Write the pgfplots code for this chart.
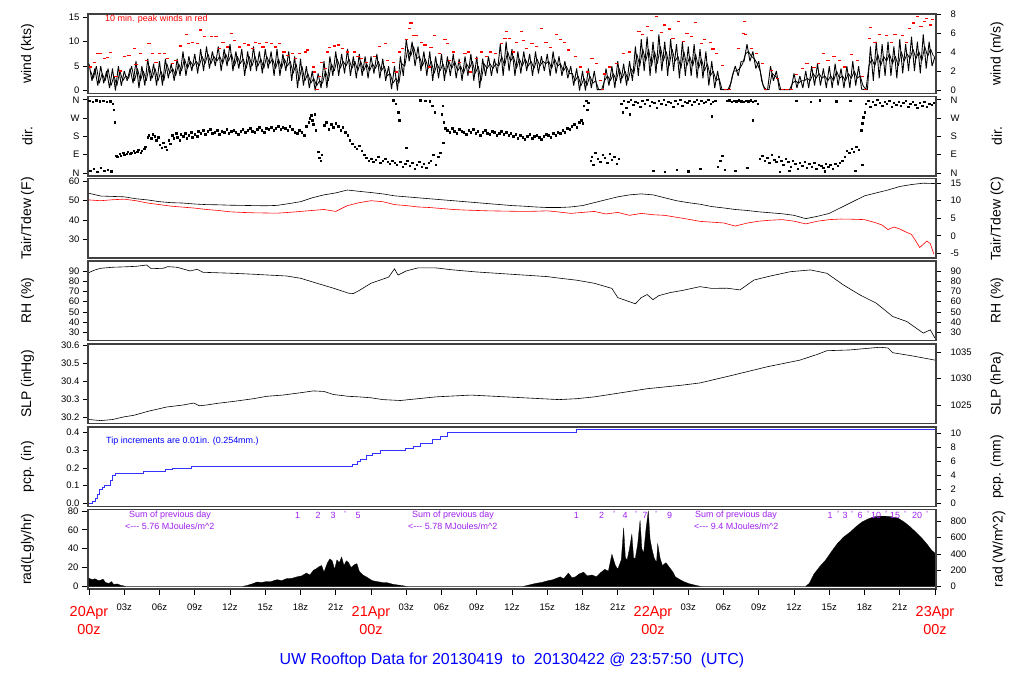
\documentclass[border=0pt]{standalone}
\usepackage{fontspec}
\setmainfont{Liberation Sans}
\usepackage{pgfplots}
\pgfplotsset{compat=1.18}
\definecolor{ppl}{HTML}{A020F0}
\newcommand\tk{\fontsize{9.5}{10}\selectfont}
\newcommand\lb{\fontsize{14}{16}\selectfont}
\newcommand\dayf{\fontsize{14.5}{18}\selectfont}
\newcommand\note{\fontsize{9}{10}\selectfont}

\pgfplotsset{
  panel/.style={scale only axis, width=848bp, height=79.5bp, anchor=north west,
    xmin=-0.085, xmax=72.085, xtick=\empty,
    axis line style={black!75, line width=1.2bp},
    tick align=outside, major tick length=5bp,
    every tick/.style={black, line width=0.6bp},
    yticklabel style={font=\tk}, ytick pos=left},
  rpanel/.style={panel, axis y line*=right, axis x line=none,
    ytick pos=right, yticklabel style={font=\tk, xshift=6bp}},
}

\begin{document}
\begin{tikzpicture}
\fill[white] (0,0) rectangle (1024bp,-700bp);
\path[use as bounding box] (0,0) rectangle (1024bp,-700bp);

% ---------------- wind
\begin{axis}[panel, at={(88bp,-14bp)}, ymin=-0.6, ymax=15.65,
  ytick={0,5,10,15}, yticklabels={0,5,10,15}]
\addplot[black, line width=0.9bp, line join=bevel] coordinates {
(0,5.5)(0.25,2)(0.5,4.5)(0.75,1) (1,5)(1.25,1.5)(1.5,4)(1.75,0.5)
(2,4.5)(2.25,0)(2.5,5)(2.75,1) (3,4)(3.25,2)(3.5,4.5)(3.75,1.5)
(4,6)(4.25,0.5)(4.5,5)(4.75,1) (5,6.5)(5.25,2)(5.5,5.5)(5.75,1)
(6,6)(6.25,1)(6.5,6.5)(6.75,2.5) (7,5.5)(7.25,2)(7.5,6.5)(7.75,3)
(8,8)(8.25,3)(8.5,7)(8.75,4) (9,7.5)(9.25,3.5)(9.5,8.5)(9.75,4)
(10,9)(10.25,4.5)(10.5,8)(10.75,5) (11,9)(11.25,4)(11.5,8.5)(11.75,5)
(12,9.5)(12.25,4)(12.5,8)(12.75,4.5) (13,8.5)(13.25,3)(13.5,8)(13.75,4)
(14,9)(14.25,4)(14.5,8)(14.75,3.5) (15,8.5)(15.25,4.5)(15.5,8)(15.75,3)
(16,8.5)(16.25,3)(16.5,7.5)(16.75,4) (17,8)(17.25,2)(17.5,7)(17.75,0.5)
(18,6.5)(18.25,1)(18.5,5)(18.75,0.5) (19,4)(19.25,0)(19.5,3.5)(19.75,0.5)
(20,6)(20.25,0.5)(20.5,7)(20.75,3) (21,8)(21.25,3)(21.5,7.5)(21.75,3.5)
(22,8.5)(22.25,3)(22.5,7)(22.75,2.5) (23,7.5)(23.25,3)(23.5,7)(23.75,2.5)
(24,7)(24.25,3.5)(24.5,7.5)(24.75,2.5) (25,6.5)(25.25,2)(25.5,5)(25.75,0.3)
(26,5)(26.25,0)(26.5,7)(26.75,3) (27,10.5)(27.25,6)(27.5,10)(27.75,5)
(28,9)(28.25,4)(28.5,8)(28.75,3) (29,8)(29.25,2)(29.5,7)(29.75,2.5)
(30,7.5)(30.25,2)(30.5,7)(30.75,3) (31,7.5)(31.25,2.5)(31.5,6.5)(31.75,2)
(32,7)(32.25,3)(32.5,7.5)(32.75,2) (33,7)(33.25,0.5)(33.5,6.5)(33.75,3)
(34,7)(34.25,3)(34.5,6.5)(34.75,3.5) (35,9.5)(35.25,3)(35.5,10)(35.75,4)
(36,8.5)(36.25,3)(36.5,8)(36.75,3.5) (37,8)(37.25,4)(37.5,7.5)(37.75,3)
(38,8)(38.25,3.5)(38.5,7)(38.75,4) (39,7.5)(39.25,3)(39.5,8)(39.75,3.5)
(40,7)(40.25,3)(40.5,6)(40.75,2.5) (41,5)(41.25,1)(41.5,4.5)(41.75,0)
(42,4)(42.25,0)(42.5,4.5)(42.75,0.5) (43,4)(43.25,0.2)(43.5,0.2)(43.75,0.2)
(44,4.5)(44.25,1)(44.5,5)(44.75,0.5) (45,6)(45.25,1.5)(45.5,5.5)(45.75,1)
(46,6)(46.25,2)(46.5,9)(46.75,3) (47,10.5)(47.25,4)(47.5,11)(47.75,3)
(48,10)(48.25,3.5)(48.5,11.5)(48.75,4) (49,10)(49.25,3)(49.5,10.5)(49.75,4)
(50,9.5)(50.25,2.5)(50.5,10)(50.75,3) (51,9)(51.25,3)(51.5,9.5)(51.75,2.5)
(52,8.5)(52.25,2.5)(52.5,8)(52.75,1) (53,6)(53.25,0.5)(53.5,4)(53.75,0.2)
(54,0.2)(54.25,0.2)(54.5,0.2)(54.75,3) (55,5)(55.25,3)(55.5,6)(55.75,6)
(56,9.5)(56.25,6)(56.5,8)(56.75,4.5) (57,6)(57.25,2)(57.5,0.2)(57.75,0.2)
(58,5)(58.25,2)(58.5,4)(58.75,0.2) (59,0.2)(59.25,0.2)(59.5,0.2)(59.75,0.2)
(60,3.5)(60.25,0.5)(60.5,3)(60.75,0.5) (61,4)(61.25,0.5)(61.5,5)(61.75,1)
(62,5.5)(62.25,1)(62.5,4.5)(62.75,0.5) (63,5)(63.25,0.5)(63.5,5.5)(63.75,1)
(64,4.5)(64.25,0.5)(64.5,5)(64.75,0.5) (65,6)(65.25,1)(65.5,5)(65.75,0.3)
(66,0.2)(66.25,0.2)(66.5,9)(66.75,2) (67,10)(67.25,2.5)(67.5,9.5)(67.75,3)
(68,10)(68.25,3)(68.5,9)(68.75,2.5) (69,10.5)(69.25,3.5)(69.5,9.5)(69.75,4)
(70,11)(70.25,4)(70.5,10)(70.75,3.5) (71,11.5)(71.25,4.5)(71.5,10)(71.75,5)
(72,7)};
\addplot[black, line width=0.8bp, line join=bevel] coordinates {
(0.125,4)(0.375,2.5)(0.625,5)(0.875,1.5) (1.125,3.5)(1.375,2)(1.625,4.5)(1.875,1)
(2.125,3)(2.375,1)(2.625,4)(2.875,2) (3.125,3)(3.375,2.5)(3.625,5)(3.875,2)
(4.125,4.5)(4.375,2)(4.625,4)(4.875,2) (5.125,5)(5.375,2.5)(5.625,4.5)(5.875,2)
(6.125,4)(6.375,2)(6.625,5.5)(6.875,3.5) (7.125,4.5)(7.375,3)(7.625,5.5)(7.875,4)
(8.125,6.5)(8.375,4.5)(8.625,6)(8.875,5) (9.125,6)(9.375,5)(9.625,7)(9.875,5.5)
(10.125,7.5)(10.375,5.5)(10.625,7)(10.875,6) (11.125,7)(11.375,5.5)(11.625,7.5)(11.875,6)
(12.125,7.5)(12.375,5)(12.625,7)(12.875,5.5) (13.125,6.5)(13.375,4.5)(13.625,7)(13.875,5)
(14.125,7)(14.375,5)(14.625,6.5)(14.875,4.5) (15.125,7)(15.375,5.5)(15.625,6.5)(15.875,4.5)
(16.125,6.5)(16.375,4.5)(16.625,6.5)(16.875,5) (17.125,6)(17.375,3.5)(17.625,5.5)(17.875,2)
(18.125,5)(18.375,2)(18.625,3.5)(18.875,1.5) (19.125,2.5)(19.375,1)(19.625,2)(19.875,1.5)
(20.125,4)(20.375,2)(20.625,5.5)(20.875,4) (21.125,6.5)(21.375,4.5)(21.625,6)(21.875,5)
(22.125,6.5)(22.375,4.5)(22.625,6)(22.875,4) (23.125,6)(23.375,4)(23.625,5.5)(23.875,4)
(24.125,5.5)(24.375,4.5)(24.625,6)(24.875,4) (25.125,5)(25.375,3)(25.625,3.5)(25.875,1.5)
(26.125,2.5)(26.375,1.5)(26.625,5.5)(26.875,5) (27.125,8.5)(27.375,7)(27.625,9)(27.875,6.5)
(28.125,7)(28.375,5)(28.625,6.5)(28.875,4.5) (29.125,6)(29.375,3.5)(29.625,5.5)(29.875,4)
(30.125,5.5)(30.375,3.5)(30.625,6)(30.875,4.5) (31.125,6)(31.375,4)(31.625,5)(31.875,3.5)
(32.125,5.5)(32.375,4.5)(32.625,6)(32.875,3.5) (33.125,5)(33.375,2)(33.625,5.5)(33.875,4.5)
(34.125,5.5)(34.375,4.5)(34.625,5.5)(34.875,5) (35.125,7)(35.375,5)(35.625,8)(35.875,6)
(36.125,7)(36.375,4.5)(36.625,6.5)(36.875,5) (37.125,6.5)(37.375,5)(37.625,6)(37.875,4.5)
(38.125,6.5)(38.375,5)(38.625,6)(38.875,5.5) (39.125,6)(39.375,4.5)(39.625,6.5)(39.875,5)
(40.125,5.5)(40.375,4)(40.625,5)(40.875,3.5) (41.125,3.5)(41.375,2)(41.625,3)(41.875,1)
(42.125,2.5)(42.375,1)(42.625,3)(42.875,1.5) (43.125,2)(43.375,0.2)(43.625,0.2)(43.875,2)
(44.125,3)(44.375,2)(44.625,3.5)(44.875,2) (45.125,4.5)(45.375,2.5)(45.625,4)(45.875,2)
(46.125,4.5)(46.375,3.5)(46.625,7.5)(46.875,5) (47.125,8.5)(47.375,6)(47.625,8.5)(47.875,5)
(48.125,8)(48.375,5.5)(48.625,9)(48.875,6) (49.125,8)(49.375,5)(49.625,8.5)(49.875,6)
(50.125,7)(50.375,4.5)(50.625,8)(50.875,5) (51.125,7)(51.375,5)(51.625,7.5)(51.875,4.5)
(52.125,6.5)(52.375,4)(52.625,5.5)(52.875,3) (53.125,4)(53.375,2)(53.625,2.5)(53.875,0.2)
(54.125,0.2)(54.375,0.2)(54.625,1.5)(54.875,4) (55.125,4)(55.375,4.5)(55.625,5.5)(55.875,7.5)
(56.125,8)(56.375,7)(56.625,6.5)(56.875,5.5) (57.125,4)(57.375,1)(57.625,0.2)(57.875,0.2)
(58.125,3.5)(58.375,3)(58.625,2.5)(58.875,0.2) (59.125,0.2)(59.375,0.2)(59.625,0.2)(59.875,1.5)
(60.125,2)(60.375,1.5)(60.625,2)(60.875,2) (61.125,2.5)(61.375,2)(61.625,3.5)(61.875,2.5)
(62.125,3.5)(62.375,2.5)(62.625,3)(62.875,2) (63.125,3)(63.375,2)(63.625,4)(63.875,2.5)
(64.125,3)(64.375,2)(64.625,3.5)(64.875,2.5) (65.125,4)(65.375,2.5)(65.625,3)(65.875,1)
(66.125,0.2)(66.375,5)(66.625,6.5)(66.875,5) (67.125,7.5)(67.375,5)(67.625,7)(67.875,6)
(68.125,7.5)(68.375,5.5)(68.625,7)(68.875,5) (69.125,8)(69.375,6)(69.625,7.5)(69.875,6.5)
(70.125,8.5)(70.375,6.5)(70.625,8)(70.875,6) (71.125,9)(71.375,7)(71.625,8.5)(71.875,7)};
\addplot[only marks, red, mark=-, mark size=1.6bp, mark options={line width=1.2bp}] coordinates {
(0.1,4.8)(0.5,5.8)(0.7,7.6)(1.0,7.6)(1.3,6.5)(1.6,6.7)(1.8,7.7)(2.3,2.8)(2.7,4.0)(3.0,6.9)
(3.4,7.1)(3.9,8.6)(4.0,5.4)(4.4,7.6)(4.9,6.2)(5.1,9.6)(5.4,7.6)(5.7,5.8)(6.0,7.6)(6.4,7.6)
(6.7,6.5)(7.1,5.5)(7.4,6.2)(7.8,9.1)(8.3,11.4)(8.5,9.6)(8.8,9.8)(9.2,9.6)(9.5,12.4)(9.8,11.0)
(10.4,11.0)(10.8,11.0)(11.1,8.6)(11.4,9.8)(11.8,8.9)(12.1,11.7)(12.4,10.2)(12.8,8.9)(13.2,9.6)
(13.6,9.3)(13.9,8.6)(14.2,9.9)(14.5,9.6)(14.8,8.9)(15.1,9.8)(15.5,9.6)(15.9,8.9)(16.2,9.6)
(16.6,7.9)(16.9,7.2)(17.3,7.6)(17.6,6.5)
(17.9,7.6)(18.4,7.9)(18.6,8.3)(19.1,4.8)(19.2,3.8)(19.4,0.2)(19.6,2.8)(19.8,5.8)(20.1,4.5)
(20.3,7.9)(20.5,8.8)(20.9,9.1)(21.2,9.3)(21.6,8.6)(22.0,7.9)(22.6,7.9)(22.9,6.9)(23.2,6.5)
(23.6,5.8)(24.3,6.9)(24.7,9.0)(25.2,9.6)(25.4,6.2)(25.9,5.8)(26.2,3.8)(26.4,7.9)(26.7,8.6)
(27.0,10.5)(27.3,12.7)(27.4,13.8)(27.6,11.2)(27.9,11.2)(28.3,9.9)(28.6,9.3)(29.0,4.8)(29.1,8.8)
(29.4,11.2)(29.8,7.6)(30.3,10.5)(30.5,9.6)(30.7,6.2)(31.0,7.9)(31.5,5.8)(32.0,7.6)(32.3,7.9)
(32.5,3.8)(33.0,6.5)(33.4,7.9)(33.8,6.9)(34.2,7.9)(34.6,7.6)(35.1,9.6)(35.4,10.7)(35.5,12.0)
(35.8,10.7)(36.1,7.9)(36.4,9.9)(36.8,12.0)(37.0,10.2)(37.2,8.6)(37.7,9.6)(38.1,9.0)(38.5,12.7)
(38.9,9.9)(39.3,8.8)(39.8,11.5)(40.1,10.5)(40.5,9.9)(40.8,8.3)(41.4,6.9)(41.8,4.8)(42.4,3.8)
(42.8,6.5)(43.2,5.5)(43.5,2.1)(43.7,0.2)(43.9,3.4)(44.3,4.8)(44.9,5.5)(45.5,7.6)(46.0,7.9)
(46.8,12.0)(47.1,11.5)(47.5,13.1)(47.9,12.2)(48.3,15.2)(48.7,11.8)(49.0,13.4)(49.4,12.6)
(49.7,10.7)(50.2,14.1)(50.6,10.0)(50.9,11.7)(51.3,11.0)(51.6,13.9)(52.1,9.6)(52.4,10.4)
(52.9,9.9)(53.1,8.5)(53.4,7.6)(53.9,5.2)(54.2,0.2)(54.5,0.2)
(55.3,8.6)(55.7,11.7)(55.8,14.1)(55.9,11.4)(56.4,8.6)(56.8,7.6)(57.3,5.5)(57.6,0.2)(58.1,4.1)
(58.6,2.4)(59.0,0.2)(59.4,0.2)(59.8,0.2)(60.2,3.3)(60.7,4.5)(61.1,5.5)(61.7,4.7)(62.1,5.5)
(62.5,7.6)(62.9,6.2)(63.4,6.9)(63.9,6.2)(64.3,4.8)(64.9,7.4)(65.4,6.2)(65.8,2.9)(66.1,0.2)
(66.4,10.7)(66.5,12.9)(66.9,9.9)(67.3,11.5)(67.9,11.2)(68.3,9.9)(68.6,11.4)(69.2,11.2)
(69.6,9.9)(69.8,12.7)(70.2,13.8)(70.5,15.2)(70.8,13.1)(71.1,14.1)(71.3,14.8)(71.6,13.4)(71.8,14.6)};
\end{axis}
\begin{axis}[rpanel, at={(88bp,-14bp)}, ymin=-0.309, ymax=8.05,
  ytick={0,2,4,6,8}, yticklabels={0,2,4,6,8}]
\end{axis}

% ---------------- direction
\begin{axis}[panel, at={(88bp,-96.5bp)}, ymin=-15, ymax=376,
  ytick={0,90,180,270,360}, yticklabels={N,E,S,W,N}]
\addplot[only marks, black, mark=square*, mark size=0.75bp] coordinates {
(0,355)(0.1,10)(0.3,350)(0.4,20)(0.6,358)(0.7,5)(0.9,352)(1.0,25)(1.2,356)(1.3,10)(1.5,350)
(1.6,15)(1.8,354)(1.9,8)(2.0,340)(2.1,310)(2.2,250)(2.3,85)
(2.4,80)(2.6,95)(2.7,85)(2.9,100)(3.0,90)(3.2,95)(3.3,105)(3.5,95)(3.6,100)(3.8,110)(3.9,100)
(4.1,105)(4.2,115)(4.4,100)(4.5,110)(4.7,120)(4.8,130)
(5.0,175)(5.1,185)(5.3,170)(5.4,190)(5.6,180)(5.7,160)(5.9,175)
(6.0,140)(6.2,125)(6.3,150)(6.5,130)(6.6,115)(6.8,160)(6.9,145)
(7.1,185)(7.2,170)(7.4,195)(7.5,175)(7.7,160)(7.8,190)(8.0,180)(8.2,195)(8.3,170)(8.5,185)
(8.7,200)(8.8,175)(9.0,190)(9.2,180)(9.3,205)
(9.5,195)(9.7,210)(9.9,190)(10.1,205)(10.3,215)(10.5,195)(10.7,200)(10.9,210)(11.1,190)
(11.3,205)(11.5,200)(11.7,215)(11.9,195)(12.1,205)(12.3,210)(12.5,200)(12.7,190)(12.9,205)
(13.1,215)(13.3,200)(13.5,210)(13.7,220)(13.9,205)(14.1,200)(14.3,215)(14.5,225)(14.7,210)
(14.9,200)(15.1,220)(15.3,215)(15.5,225)(15.7,210)(15.9,220)(16.1,230)(16.3,215)(16.5,225)
(16.7,220)(16.9,210)(17.1,230)(17.3,215)(17.5,200)(17.7,195)(17.9,210)
(18.1,200)(18.3,185)(18.5,230)(18.7,250)(18.8,270)(18.9,285)(19.0,260)(19.1,240)(19.2,290)(19.3,210)
(19.5,105)(19.6,75)(19.7,60)(19.8,90)
(20.0,235)(20.2,250)(20.4,215)(20.6,240)(20.8,225)(21.0,245)(21.2,230)(21.4,210)(21.6,225)(21.8,200)
(22.0,185)(22.2,160)(22.4,145)(22.6,130)(22.8,120)(23.0,135)(23.2,110)(23.4,90)
(23.6,75)(23.8,60)(24.0,70)(24.2,55)(24.4,65)(24.6,80)(24.8,50)(25.0,60)(25.2,70)(25.4,55)
(25.6,45)(25.8,60)(26.0,50)(26.2,40)
(25.9,358)(26.1,340)(26.3,300)(26.4,260)
(26.5,55)(26.7,30)(26.9,45)(27.0,125)(27.1,60)(27.3,35)(27.5,50)(27.7,20)(27.9,40)(28.1,55)
(28.3,30)(28.5,45)(28.7,25)(28.9,50)
(28.2,358)(28.6,355)(29.0,352)(29.2,330)(29.4,300)
(29.1,60)(29.3,90)(29.5,40)(29.7,80)(29.9,100)
(30.0,290)(30.1,330)(30.15,150)(30.2,250)(30.3,220)
(30.5,210)(30.7,200)(30.9,220)(31.1,205)(31.3,195)(31.5,215)(31.7,205)(31.9,200)(32.1,190)
(32.3,210)(32.5,200)(32.7,215)(32.9,195)(33.1,205)(33.3,185)(33.5,200)(33.7,210)(33.9,195)
(34.1,190)(34.3,205)(34.5,200)(34.7,185)(34.9,195)(35.1,205)(35.3,190)(35.5,200)(35.7,185)(35.9,195)
(36.1,180)(36.3,190)(36.5,170)(36.7,185)(36.9,175)(37.1,165)(37.3,180)(37.5,190)(37.7,170)
(37.9,180)(38.1,185)(38.3,175)(38.5,165)(38.7,180)(38.9,190)(39.1,185)(39.3,175)(39.5,195)
(39.7,185)(39.9,200)
(40.1,195)(40.3,210)(40.5,200)(40.7,220)(40.9,215)(41.1,230)(41.3,240)(41.5,225)(41.7,250)
(41.9,260)(42.0,245)(42.1,330)(42.3,355)(42.4,310)(42.5,345)
(42.7,60)(42.8,80)(42.9,40)(43.1,100)(43.3,70)(43.5,55)(43.7,90)(43.9,75)(44.1,50)(44.3,95)
(44.5,65)(44.7,80)(44.9,45)(45.1,70)
(45.3,340)(45.4,300)(45.5,355)(45.7,320)(45.9,350)(46.1,360)(46.3,335)(46.5,350)(46.7,345)
(46.9,325)(47.1,355)(47.3,340)(47.5,360)(47.7,330)(47.9,350)(48.1,345)(48.3,320)(48.5,355)
(48.7,340)(48.9,360)(49.1,335)(49.3,350)(49.5,345)(49.7,325)(49.9,355)(50.1,340)(50.3,360)
(50.5,330)(50.7,350)(50.9,345)(51.1,355)(51.3,335)(51.5,350)(51.7,360)(51.9,340)(52.1,355)
(52.3,345)(52.5,350)(52.7,360)(52.9,340)(53.1,350)(53.3,355)
(46.0,290)(48.0,10)(49.0,5)(50.0,15)(51.0,8)(52.0,20)(53.0,280)
(53.5,30)(53.7,60)(53.9,85)(54.1,15)
(54.3,355)(54.5,358)(54.7,350)(54.9,356)(55.1,352)(55.3,358)(55.5,354)(55.7,350)(55.9,356)
(56.1,352)(56.3,358)(56.5,350)(56.7,355)(56.9,340)(55.0,10)(56.0,25)(56.5,260)
(57.1,70)(57.3,85)(57.5,60)(57.7,75)(57.9,50)(58.1,90)(58.3,65)(58.5,55)(58.7,80)(58.9,60)
(59.1,40)(59.3,70)(59.5,55)(59.7,30)(59.9,60)(60.1,45)(60.3,20)(60.5,50)(60.7,35)(60.9,55)
(61.1,25)(61.3,45)(61.5,30)(61.7,50)(61.9,20)(62.1,40)(62.3,35)(62.5,25)(62.7,45)(62.9,30)
(63.1,40)(63.3,20)(63.5,45)(63.7,35)(63.9,50)(64.1,60)(64.3,80)(64.5,110)(64.7,100)(64.9,120)
(65.1,105)(65.3,130)(65.5,115)
(60.2,355)(61.4,350)(62.2,358)(63.6,352)(64.8,356)(58.8,5)(59.6,10)(62.6,8)(65.2,12)(65.8,40)
(65.7,210)(65.8,245)(65.9,275)(66.0,300)
(66.1,340)(66.3,355)(66.5,325)(66.7,350)(66.9,335)(67.1,360)(67.3,345)(67.5,330)(67.7,350)
(67.9,340)(68.1,355)(68.3,325)(68.5,345)(68.7,335)(68.9,350)(69.1,330)(69.3,345)(69.5,355)
(69.7,325)(69.9,340)(70.1,350)(70.3,335)(70.5,320)(70.7,345)(70.9,330)(71.1,350)(71.3,325)
(71.5,340)(71.7,335)(71.9,345)};
\end{axis}
\begin{axis}[rpanel, at={(88bp,-96.5bp)}, ymin=-15, ymax=376,
  ytick={0,90,180,270,360}, yticklabels={N,E,S,W,N}]
\end{axis}

% ---------------- temperature
\begin{axis}[panel, at={(88bp,-178.5bp)}, ymin=20.6, ymax=61.4,
  ytick={30,40,50,60}, yticklabels={30,40,50,60}]
\addplot[black, line width=0.6bp] coordinates {
(0,53.8)(1,52.4)(2,52.2)(3,52)(4,51)(5,50.4)(6,49.5)(7,49)(8,48.8)(9,48.3)(10,48)(11,47.9)
(12,47.7)(13,47.6)(14,47.5)(15,47.4)(16,47.6)(17,48.5)(18,49.5)(19,51.5)(20,53)(21,54)(22,55.5)
(23,54.8)(24,54.2)(25,53.5)(26,52.5)(27,52)(28,51.5)(29,51)(30,50.5)(31,50)(32,49.5)(33,49)
(34,48.5)(35,48)(36,47.5)(37,47.2)(38,46.8)(39,46.5)(40,46.5)(41,46.8)(42,47.5)(43,49)(44,50.5)
(45,52)(46,53)(47,53.5)(48,53)(49,51.5)(50,50)(51,49)(52,48.2)(53,47)(54,46.3)(55,45.5)(56,45)
(57,44.3)(58,43.8)(59,43.3)(60,42.5)(61,40.8)(62,42)(63,43.5)(64,46.5)(65,49.5)(66,52.5)(67,54)
(68,55.5)(69,57.3)(70,58.3)(71,59)(72,58.8)};
\addplot[red, line width=0.6bp] coordinates {
(0,50.4)(1,50)(2,50.5)(3,50.8)(4,50)(5,48.8)(6,48)(7,47.2)(8,46.7)(9,46.2)(10,45.5)(11,45)
(12,44.3)(13,44)(14,43.8)(15,43.7)(16,43.6)(17,44)(18,44.5)(19,45)(20,45.5)(21,44.5)(22,47.5)
(23,49)(24,50)(25,49.5)(26,48)(27,47.5)(28,46.8)(29,46.5)(30,46)(31,45.5)(32,45.2)(33,45)
(34,44.8)(35,44.7)(36,44.6)(37,44.5)(38,44.6)(39,44.8)(40,44.2)(41,43.5)(42,44)(43,44.5)
(44,43.2)(45,44)(46,42.5)(47,43.5)(48,42.8)(49,42.5)(50,41.5)(51,40.5)(52,39.4)(53,39)(54,38.6)
(55,37)(56,38.5)(57,39.5)(58,40)(59,40.3)(60,39.5)(61,38.1)(62,39.5)(63,40.3)(64,40.6)(65,40.5)
(66,40.3)(67,38.6)(67.5,37.5)(68,35.2)(68.5,36.5)(69,35.5)(69.5,34)(70,32.7)(70.4,29)
(70.7,26)(71.3,29.3)(71.6,28)(71.9,22.6)};
\end{axis}
\begin{axis}[rpanel, at={(88bp,-178.5bp)}, ymin=-6.333, ymax=16.333,
  ytick={-5,0,5,10,15}, yticklabels={-5,0,5,10,15}]
\end{axis}

% ---------------- RH
\begin{axis}[panel, at={(88bp,-261bp)}, ymin=22.2, ymax=99.7,
  ytick={30,40,50,60,70,80,90}, yticklabels={30,40,50,60,70,80,90}]
\addplot[black, line width=0.6bp] coordinates {
(0,88.4)(0.5,91)(1,92.6)(2,93.6)(3,94)(4,94.5)(4.9,95.8)(5.3,92.2)(6.3,92.6)(6.7,94.2)
(7.5,93.6)(8.6,90)(9.2,91.6)(9.7,88.7)(11,88.2)(12.3,87.7)(14,86.8)(15.1,86.1)(16.8,85.1)
(18,82.9)(19.4,78)(20.8,73.2)(22.1,68.3)(22.5,68)(23,71)(24,78)(25,82)(25.5,84)(26,92)
(26.3,86)(27,90)(28,93)(29.5,93)(31,91)(33,89)(35,87.5)(37,86)(39,84.5)(40,83)(41.5,81)
(43,78)(44.5,73)(45,64)(45.5,62)(46.5,58)(47,64)(47.5,67)(48,62)(48.5,66)(49.5,69)(50.5,71)
(52,74.7)(53,73)(54.3,73.2)(55.4,71.5)(56.6,81.2)(58,85.1)(59.7,89.3)(61.4,91)(62.8,87.7)
(64.2,76.4)(65.6,66.7)(67,58.6)(68.4,45.6)(69.6,40.7)(71,29.4)(71.6,32.6)(72,24.5)};
\end{axis}
\begin{axis}[rpanel, at={(88bp,-261bp)}, ymin=22.2, ymax=99.7,
  ytick={30,40,50,60,70,80,90}, yticklabels={30,40,50,60,70,80,90}]
\end{axis}

% ---------------- SLP
\begin{axis}[panel, at={(88bp,-344bp)}, ymin=30.168, ymax=30.607,
  ytick={30.2,30.3,30.4,30.5,30.6}, yticklabels={30.2,30.3,30.4,30.5,30.6}]
\addplot[black, line width=0.6bp] coordinates {
(0,30.19)(1,30.184)(2,30.19)(3,30.205)(3.8,30.213)(5,30.235)(6.6,30.259)(8,30.27)(8.9,30.281)
(9.4,30.266)(10,30.27)(11,30.28)(12.3,30.29)(14,30.305)(15.1,30.318)(16.5,30.325)(17.9,30.337)
(19.1,30.348)(20,30.345)(20.8,30.328)(22.1,30.318)(23,30.315)(24,30.31)(25,30.3)(26.5,30.295)
(28,30.305)(29.5,30.315)(31,30.32)(32.5,30.325)(34,30.32)(35.5,30.315)(37,30.31)(38.5,30.305)
(40,30.3)(41.5,30.305)(43,30.315)(44.5,30.33)(46,30.345)(47.5,30.36)(49,30.37)(50.5,30.38)
(52,30.392)(54.8,30.435)(57.7,30.481)(60.5,30.518)(62,30.55)(62.8,30.57)(64.7,30.574)
(67.3,30.589)(68,30.585)(68.4,30.559)(70.1,30.541)(72,30.518)};
\end{axis}
\begin{axis}[rpanel, at={(88bp,-344bp)}, ymin=1021.6, ymax=1036.5,
  ytick={1025,1030,1035}, yticklabels={1025,1030,1035}]
\end{axis}

% ---------------- precipitation
\begin{axis}[panel, at={(88bp,-427bp)}, ymin=-0.019, ymax=0.432,
  ytick={0,0.1,0.2,0.3,0.4}, yticklabels={0.0,0.1,0.2,0.3,0.4}]
\addplot[blue!80!white, line width=0.7bp, const plot] coordinates {
(0,0)(0.3,0.01)(0.5,0.03)(0.7,0.05)(0.9,0.08)(1.1,0.09)(1.3,0.1)(1.8,0.13)(2.0,0.16)(2.2,0.17)
(4.6,0.18)(6.5,0.19)(7.1,0.20)(8.7,0.21)(22.4,0.22)(22.8,0.24)(23.1,0.25)(23.6,0.27)(24.1,0.285)
(24.8,0.30)(26.9,0.31)(27.6,0.32)(28.2,0.34)(29.2,0.36)(29.9,0.38)(30.5,0.40)(41.5,0.42)(72,0.42)};
\end{axis}
\begin{axis}[rpanel, at={(88bp,-427bp)}, ymin=-0.48, ymax=10.97,
  ytick={0,2,4,6,8,10}, yticklabels={0,2,4,6,8,10}]
\end{axis}

% ---------------- radiation
\begin{axis}[panel, at={(88bp,-509.5bp)}, ymin=-2.9, ymax=81.5,
  ytick={0,20,40,60,80}, yticklabels={0,20,40,60,80},
  xtick={3,6,9,12,15,18,21,27,30,33,36,39,42,45,51,54,57,60,63,66,69},
  xticklabels={03z,06z,09z,12z,15z,18z,21z,03z,06z,09z,12z,15z,18z,21z,03z,06z,09z,12z,15z,18z,21z},
  xtick pos=bottom, major tick length=6bp,
  xticklabel style={font=\tk, yshift=-5bp},
  extra x ticks={0,24,48,72},
  extra x tick labels={{20Apr\\00z},{21Apr\\00z},{22Apr\\00z},{23Apr\\00z}},
  extra x tick style={xticklabel style={font=\dayf, text=red, align=center, yshift=-3bp}}]
\addplot[black!60, line width=0.8bp] coordinates {(0,0)(72,0)};
\addplot[fill=black, draw=black, line width=0.3bp] coordinates {
(0,0)(0,8.5)(0.3,7)(0.5,8)(0.8,6)(1.0,6.5)(1.2,7.5)(1.4,4)(1.7,3)(1.9,5)(2.1,2)(2.4,2.5)(2.7,1)
(3.1,0)} \closedcycle;
\addplot[fill=black, draw=black, line width=0.3bp] coordinates {
(13.1,0)(13.5,1)(14,3)(14.3,4.5)(14.7,4)(15.1,5)(15.5,5)(16,7)(16.4,6)(16.8,8)(17.3,8.5)
(17.7,10)(18.1,11)(18.5,14)(18.8,12)(19.1,17)(19.4,19)(19.6,21)(19.8,22)(20,15)(20.3,25)
(20.5,29)(20.7,27)(20.9,18)(21.1,28)(21.3,25)(21.5,31)(21.7,22)(21.9,27)(22.1,25)(22.3,20)
(22.6,23)(22.8,24)(23,16)(23.3,12)(23.6,10)(24.1,6)(24.5,5)(25,4)(25.3,4)(25.6,3)(25.9,2)
(26.5,1)(27,0)} \closedcycle;
\addplot[fill=black, draw=black, line width=0.3bp] coordinates {
(37,0)(37.5,1.5)(38,3)(38.5,4)(39.1,6)(39.5,7)(40.1,10)(40.4,8)(40.8,14)(41.1,9)(41.4,10)
(41.7,13)(42.1,15)(42.4,11)(42.8,12)(43.2,10)(43.5,14)(43.9,18)(44.2,16)(44.5,34)(44.8,22)
(45.0,18)(45.3,28)(45.5,62)(45.65,30)(45.8,28)(46.0,40)(46.2,55)(46.35,30)(46.5,30)(46.7,45)
(46.9,70)(47.05,40)(47.2,35)(47.4,60)(47.6,80)(47.75,50)(47.9,40)(48.1,30)(48.3,25)(48.4,45)
(48.6,30)(48.8,22)(49.1,25)(49.4,20)(49.7,15)(49.9,10)(50.3,7)(50.6,5)(51,3)(51.3,2)(52,0)}
\closedcycle;
\addplot[fill=black, draw=black, line width=0.3bp] coordinates {
(61,0)(61.3,3)(61.7,13)(62.2,21)(62.7,28)(63.2,37)(63.7,45.5)(64.2,52)(64.8,57.8)(65.3,63.5)
(65.8,68.4)(66.3,71.5)(66.8,73.7)(67.3,74.4)(67.8,74.4)(68.3,73.8)(68.9,72)(69.4,68)(69.9,63)
(70.4,57)(70.9,50.8)(71.3,45)(71.7,38.4)(72,35)(72,0)} \closedcycle;
\end{axis}
\begin{axis}[rpanel, at={(88bp,-509.5bp)}, ymin=-33.7, ymax=947,
  ytick={0,200,400,600,800}, yticklabels={0,200,400,600,800}]
\end{axis}

% ---------------- axis titles
\begin{scope}[every node/.style={font=\lb, rotate=90, anchor=center}]
\node at (27.5bp,-53.75bp) {wind (kts)};
\node at (27.5bp,-136.25bp) {dir.};
\node at (27.5bp,-218.25bp) {Tair/Tdew (F)};
\node at (27.5bp,-300.75bp) {RH (\%)};
\node at (27.5bp,-383.75bp) {SLP (inHg)};
\node at (27.5bp,-466.75bp) {pcp. (in)};
\node at (27.5bp,-549.25bp) {rad(Lgly/hr)};
\node at (997bp,-53.75bp) {wind (m/s)};
\node at (997bp,-136.25bp) {dir.};
\node at (997bp,-218.25bp) {Tair/Tdew (C)};
\node at (997bp,-300.75bp) {RH (\%)};
\node at (997bp,-383.75bp) {SLP (hPa)};
\node at (997bp,-466.75bp) {pcp. (mm)};
\node at (999bp,-549.25bp) {rad (W/m\textasciicircum 2)};
\end{scope}

% ---------------- notes
\node[font=\note, text=red, anchor=west, inner sep=0] at (105bp,-19.5bp) {10 min. peak winds in red};
\node[font=\note, text=blue, anchor=west, inner sep=0] at (106bp,-441.5bp) {Tip increments are 0.01in. (0.254mm.)};
\begin{scope}[every node/.style={font=\note, text=ppl, inner sep=0}]
\node[anchor=west] at (129bp,-515bp) {Sum of previous day};
\node[anchor=west] at (125bp,-526bp) {<-{}-{}- 5.76 MJoules/m\textasciicircum 2};
\node[anchor=west] at (412bp,-515bp) {Sum of previous day};
\node[anchor=west] at (408bp,-526bp) {<-{}-{}- 5.78 MJoules/m\textasciicircum 2};
\node[anchor=west] at (695bp,-515bp) {Sum of previous day};
\node[anchor=west] at (694bp,-526bp) {<-{}-{}- 9.4 MJoules/m\textasciicircum 2};
\node at (297.7bp,-515bp) {1}; \node at (318bp,-515bp) {2}; \node at (333bp,-515bp) {3};
\node at (345bp,-514bp) {'}; \node at (358bp,-515bp) {5};
\node at (576.4bp,-515bp) {1}; \node at (601.6bp,-515bp) {2}; \node at (614bp,-514bp) {'};
\node at (625bp,-515bp) {4}; \node at (636bp,-514bp) {'}; \node at (645bp,-515bp) {7};
\node at (656bp,-514bp) {'}; \node at (669.6bp,-515bp) {9};
\node at (830bp,-515bp) {1}; \node at (838bp,-514bp) {'}; \node at (845bp,-515bp) {3};
\node at (852bp,-514bp) {'}; \node at (860bp,-515bp) {6}; \node at (868bp,-514bp) {'};
\node at (876bp,-515bp) {10}; \node at (886bp,-514bp) {'}; \node at (895bp,-515bp) {15};
\node at (905bp,-514bp) {'}; \node at (917bp,-515bp) {20}; \node at (927bp,-514bp) {'};
\end{scope}

\node[font=\fontsize{16}{18}\selectfont, text=blue] at (512bp,-660bp)
  {UW Rooftop Data for 20130419\ \ to\ \ 20130422 @ 23:57:50\ \ (UTC)};
\end{tikzpicture}
\end{document}
